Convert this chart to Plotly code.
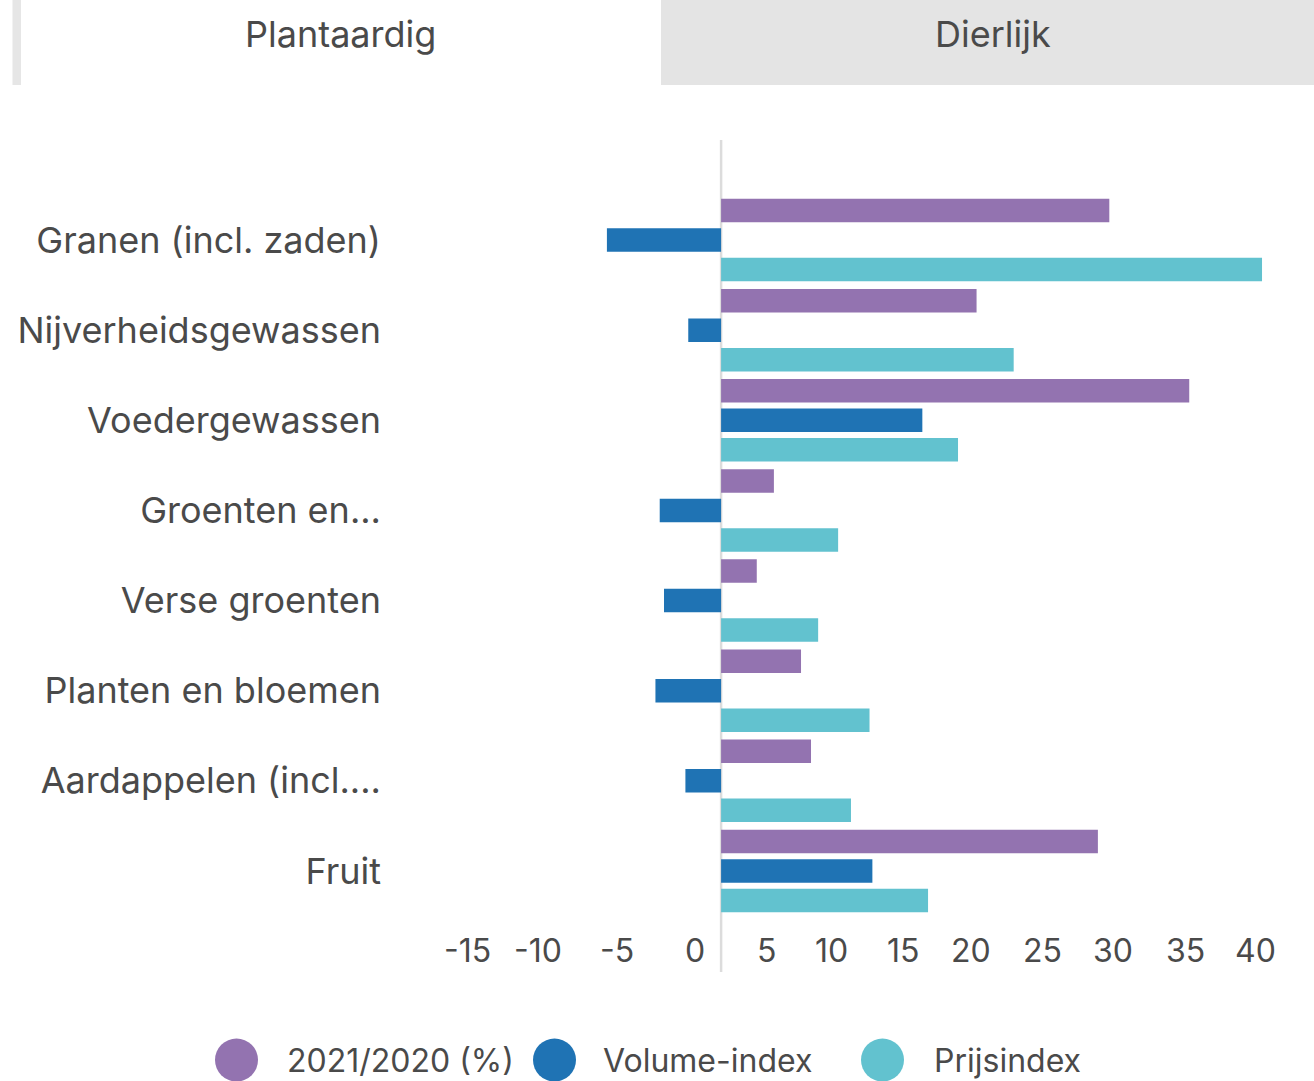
import plotly.graph_objects as go

# ---- data -------------------------------------------------------------
categories = [
    "Granen (incl. zaden)",
    "Nijverheidsgewassen",
    "Voedergewassen",
    "Groenten en...",
    "Verse groenten",
    "Planten en bloemen",
    "Aardappelen (incl....",
    "Fruit",
]
series_names = ["2021/2020 (%)", "Volume-index", "Prijsindex"]
change_pct = [27.2, 17.9, 32.8, 3.7, 2.5, 5.6, 6.3, 26.4]
volume_index = [-8.0, -2.3, 14.1, -4.3, -4.0, -4.6, -2.5, 10.6]
price_index = [37.9, 20.5, 16.6, 8.2, 6.8, 10.4, 9.1, 14.5]
x_ticks = [-15, -10, -5, 0, 5, 10, 15, 20, 25, 30, 35, 40]
tabs = ["Plantaardig", "Dierlijk"]

colors = ["#9373b0", "#1f73b4", "#62c2cf"]
series_values = [change_pct, volume_index, price_index]

# ---- page geometry ----------------------------------------------------
W, H = 1314, 1081
L, R, T, B = 507, 22, 195, 165
PW, PH = W - L - R, H - T - B
FONT = "Inter"
TEXT = "#4a4a4a"


def fx(px):
    """Horizontal page pixel -> paper fraction."""
    return (px - L) / PW


def fy(py):
    """Vertical page pixel (from top) -> paper fraction."""
    return (H - B - py) / PH


fig = go.Figure()
for name, vals, col in zip(series_names, series_values, colors):
    fig.add_trace(go.Bar(
        y=categories, x=vals, name=name, orientation="h",
        marker=dict(color=col, line=dict(width=0)),
        showlegend=False,
    ))

shapes = []
annotations = []

# zero line running past the plot area
shapes.append(dict(type="line", xref="x", yref="paper", x0=0, x1=0,
                   y0=fy(972), y1=fy(140), layer="below",
                   line=dict(color="#dcdcdc", width=2.5)))

# x tick labels, right-aligned just left of each tick
for t in x_ticks:
    annotations.append(dict(x=t, y=fy(950), xref="x", yref="paper",
                            text=str(t), showarrow=False, xanchor="right",
                            yanchor="middle", xshift=-14,
                            font=dict(family=FONT, size=32, color=TEXT)))

# tab strip at the top
shapes.append(dict(type="rect", xref="paper", yref="paper",
                   x0=fx(661), x1=fx(W + 5), y0=fy(85), y1=fy(-5),
                   fillcolor="#e4e4e4", line=dict(width=0), layer="below"))
shapes.append(dict(type="rect", xref="paper", yref="paper",
                   x0=fx(12.5), x1=fx(21), y0=fy(85), y1=fy(-5),
                   fillcolor="#e6e6e6", line=dict(width=0), layer="below"))
for label, cx in zip(tabs, [340, 993]):
    annotations.append(dict(x=fx(cx), y=fy(34), xref="paper", yref="paper",
                            text=label, showarrow=False, xanchor="center",
                            yanchor="middle",
                            font=dict(family=FONT, size=36, color=TEXT)))

# legend: large dots with labels
legend_dot_x = [236.5, 554.5, 882.5]
legend_text_x = [285, 601, 932]
r_dot = 21.5
for name, col, dx, tx in zip(series_names, colors, legend_dot_x, legend_text_x):
    shapes.append(dict(type="circle", xref="paper", yref="paper",
                       x0=fx(dx - r_dot), x1=fx(dx + r_dot),
                       y0=fy(1060 + r_dot), y1=fy(1060 - r_dot),
                       fillcolor=col, line=dict(width=0)))
    annotations.append(dict(x=fx(tx), y=fy(1060), xref="paper", yref="paper",
                            text=name, showarrow=False, xanchor="left",
                            yanchor="middle",
                            font=dict(family=FONT, size=32, color=TEXT)))

fig.update_layout(
    width=W, height=H,
    margin=dict(l=L, r=R, t=T, b=B, pad=0),
    paper_bgcolor="white", plot_bgcolor="white",
    barmode="group", bargap=0.018, bargroupgap=0.2,
    font=dict(family=FONT, color=TEXT, size=32),
    xaxis=dict(range=[-15, 40], showgrid=False, zeroline=False,
               showticklabels=False, ticks="", showline=False, fixedrange=True),
    yaxis=dict(autorange="reversed", showgrid=False, zeroline=False,
               ticks="", showline=False, ticklabelstandoff=125,
               tickfont=dict(family=FONT, size=36, color=TEXT)),
    shapes=shapes, annotations=annotations,
    showlegend=False,
)

fig.write_html("out.html")
